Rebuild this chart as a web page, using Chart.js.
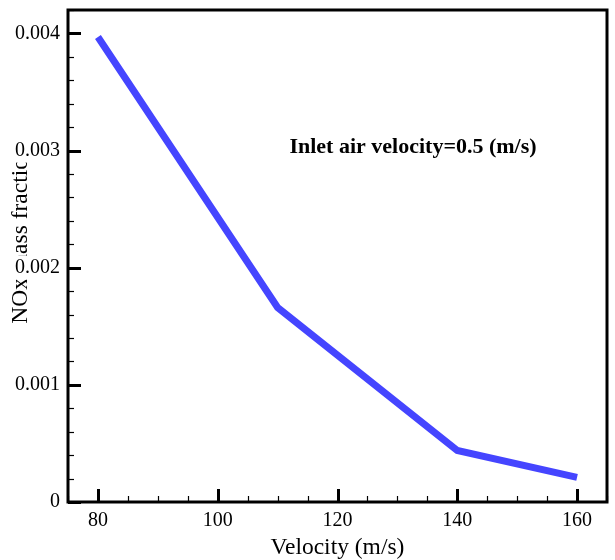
<!DOCTYPE html>
<html><head><meta charset="utf-8">
<script src="https://cdn.jsdelivr.net/npm/chart.js@4/dist/chart.umd.min.js"></script>
<style>html,body{margin:0;padding:0;background:#fff}#wrap{width:615px;height:560px}</style>
</head><body><div id="wrap"><canvas id="c" width="615" height="560"></canvas></div>
<script>
const velocities = [80, 110, 140, 160];
const noxFraction = [0.00397, 0.00166, 0.00044, 0.00021];
const xTicks = [80, 100, 120, 140, 160];
const yTicks = [0, 0.001, 0.002, 0.003, 0.004];
const xTitle = 'Velocity (m/s)';
const yTitle = 'NOx mass fraction';
const annotationText = 'Inlet air velocity=0.5 (m/s)';

const SERIF = '"Liberation Serif","Times New Roman",serif';

const framePlugin = {
  id: 'frame',
  beforeDraw(chart) {
    const ctx = chart.ctx;
    const a = chart.chartArea;
    ctx.save();
    ctx.fillStyle = '#fff';
    ctx.fillRect(0, 0, chart.width, chart.height);
    ctx.fillStyle = '#000';
    ctx.font = '23.5px ' + SERIF;
    ctx.textAlign = 'center';
    ctx.textBaseline = 'middle';
    ctx.fillText(xTitle, (a.left + a.right) / 2, 548);
    ctx.translate(21, 235);
    ctx.rotate(-Math.PI / 2);
    ctx.fillText(yTitle, 0, 0);
    ctx.restore();
  },
  afterDatasetsDraw(chart) {
    const ctx = chart.ctx;
    const a = chart.chartArea;
    const xs = chart.scales.x, ys = chart.scales.y;
    ctx.save();
    ctx.strokeStyle = '#000';
    for (let v = xs.min; v <= xs.max + 1e-9; v += 5) {
      const px = Math.round(xs.getPixelForValue(v)) + 0.5;
      const major = Math.abs(v % 20) < 1e-9;
      ctx.lineWidth = major ? 3 : 1.2;
      ctx.beginPath();
      ctx.moveTo(px, a.bottom);
      ctx.lineTo(px, a.bottom - (major ? 13 : 6));
      ctx.stroke();
    }
    for (let i = 0; i <= 21; i++) {
      const v = i * 0.0002;
      const py = Math.round(ys.getPixelForValue(v)) + 0.5;
      const major = i % 5 === 0;
      ctx.lineWidth = major ? 3 : 1.2;
      ctx.beginPath();
      ctx.moveTo(a.left, py);
      ctx.lineTo(a.left + (major ? 13 : 6), py);
      ctx.stroke();
    }
    ctx.lineWidth = 3;
    ctx.strokeRect(a.left, a.top, a.right - a.left, a.bottom - a.top);
    ctx.fillStyle = '#000';
    ctx.font = 'bold 22px ' + SERIF;
    ctx.textAlign = 'center';
    ctx.textBaseline = 'middle';
    ctx.fillText(annotationText, 413, 147);
    ctx.restore();
  }
};

new Chart(document.getElementById('c'), {
  type: 'line',
  data: {
    datasets: [{
      data: velocities.map((v, i) => ({x: v, y: noxFraction[i]})),
      borderColor: '#4545ff',
      borderWidth: 7,
      borderCapStyle: 'butt',
      borderJoinStyle: 'miter',
      pointRadius: 0,
      tension: 0,
      fill: false
    }]
  },
  options: {
    responsive: false,
    animation: false,
    events: [],
    layout: {padding: {top: 10, right: 8, left: 0, bottom: 0}},
    plugins: {legend: {display: false}, tooltip: {enabled: false}},
    scales: {
      x: {
        type: 'linear', min: 75, max: 165,
        afterFit(s) { s.height = 58; s.paddingLeft = 0; s.paddingRight = 0; },
        afterBuildTicks(s) { s.ticks = xTicks.map(v => ({value: v})); },
        grid: {display: false, drawTicks: false},
        border: {display: false},
        ticks: {
          padding: 7, color: '#000',
          font: {family: SERIF, size: 20},
          showLabelBackdrop: true, backdropColor: '#fff', backdropPadding: 1,
          callback: v => String(v)
        }
      },
      y: {
        type: 'linear', min: 0, max: 0.0042,
        afterFit(s) { s.width = 68; s.paddingTop = 0; s.paddingBottom = 0; },
        afterBuildTicks(s) { s.ticks = yTicks.map(v => ({value: v})); },
        grid: {display: false, drawTicks: false},
        border: {display: false},
        ticks: {
          padding: 8, color: '#000',
          font: {family: SERIF, size: 20},
          showLabelBackdrop: true, backdropColor: '#fff', backdropPadding: 0,
          callback: v => (v === 0 ? '0' : v.toFixed(3))
        }
      }
    }
  },
  plugins: [framePlugin]
});
</script>
</body></html>
